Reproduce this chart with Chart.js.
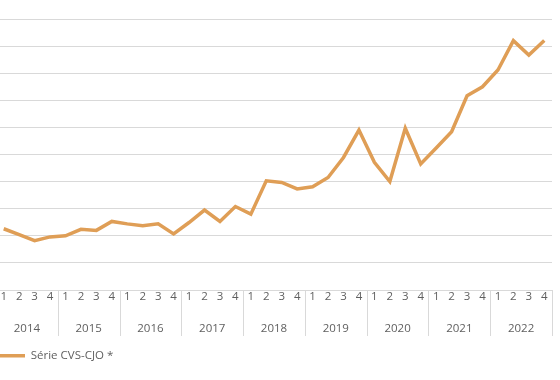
<!DOCTYPE html>
<html>
<head>
<meta charset="utf-8">
<script src="https://cdn.jsdelivr.net/npm/chart.js@4/dist/chart.umd.min.js"></script>
<style>
  html, body { margin: 0; padding: 0; background: #fff; overflow: hidden; }
  #wrap { position: absolute; left: -4px; top: 0; width: 564px; height: 380px; }
</style>
</head>
<body>
<div id="wrap"><canvas id="chart"></canvas></div>
<script>
// quarterly series, 2014 Q1 -> 2022 Q4
const years = ['2014', '2015', '2016', '2017', '2018', '2019', '2020', '2021', '2022'];
const quarters = ['1', '2', '3', '4'];
const serie = [
    22.6, 20.4, 18.2, 19.6,
    20.0, 22.4, 22.0, 25.3,
    24.4, 23.7, 24.4, 20.7,
    24.9, 29.5, 25.3, 30.8,
    28.0, 40.3, 39.7, 37.3,
    38.1, 41.5, 48.9, 59.0,
    47.1, 40.0, 59.7, 46.5,
    52.4, 58.4, 71.7, 75.0,
    81.2, 92.0, 86.7, 92.1
];

const labels = [];
years.forEach(y => quarters.forEach(q => labels.push(y + '-' + q)));

const textColor = '#5f5f5f';
const gridColor = '#d9d9d9';
const lineColor = '#df9e56';
const font = { family: '"Open Sans", sans-serif', size: 11.5 };

// year row + separators under the quarter ticks
const yearGroups = {
    id: 'yearGroups',
    afterDraw(chart) {
        const x = chart.scales.x;
        const ctx = chart.ctx;
        const step = x.getPixelForValue(1) - x.getPixelForValue(0);
        const top = chart.chartArea.bottom;
        ctx.save();
        ctx.strokeStyle = gridColor;
        ctx.lineWidth = 1;
        ctx.fillStyle = textColor;
        ctx.font = font.size + 'px ' + font.family;
        ctx.textAlign = 'center';
        ctx.textBaseline = 'middle';
        years.forEach((y, k) => {
            const left = x.getPixelForValue(k * 4) - step / 2;
            const right = x.getPixelForValue(k * 4 + 3) + step / 2;
            ctx.beginPath();
            ctx.moveTo(Math.round(right) + 0.5, top);
            ctx.lineTo(Math.round(right) + 0.5, top + 46);
            ctx.moveTo(Math.round(left) + 0.5, top);
            ctx.lineTo(Math.round(left) + 0.5, top + 46);
            ctx.stroke();
            ctx.fillText(y, (left + right) / 2, top + 38.5);
        });
        ctx.restore();
    }
};

new Chart(document.getElementById('chart'), {
    type: 'line',
    data: {
        labels,
        datasets: [{
            label: 'Série CVS-CJO *',
            data: serie,
            borderColor: lineColor,
            backgroundColor: lineColor,
            borderWidth: 3.5,
            borderJoinStyle: 'miter',
            pointRadius: 0,
            tension: 0,
            fill: false
        }]
    },
    options: {
        responsive: true,
        maintainAspectRatio: false,
        animation: false,
        layout: { padding: { left: 0, right: 8, top: 19, bottom: 8.5 } },
        scales: {
            x: {
                offset: true,
                grid: { display: false, drawTicks: false },
                border: { display: true, color: gridColor },
                ticks: {
                    color: textColor,
                    font,
                    padding: 0,
                    autoSkip: false,
                    maxRotation: 0,
                    callback: (v, i) => quarters[i % 4]
                },
                afterFit: (scale) => { scale.height = 56; }
            },
            y: {
                min: 0,
                max: 100,
                grid: { color: gridColor, drawTicks: false },
                border: { display: false },
                ticks: { display: false, stepSize: 10 }
            }
        },
        plugins: {
            legend: {
                position: 'bottom',
                align: 'start',
                labels: {
                    color: textColor,
                    font,
                    padding: 4,
                    usePointStyle: true,
                    pointStyle: 'line',
                    pointStyleWidth: 25
                }
            },
            tooltip: { enabled: false }
        }
    },
    plugins: [yearGroups]
});
</script>
</body>
</html>
